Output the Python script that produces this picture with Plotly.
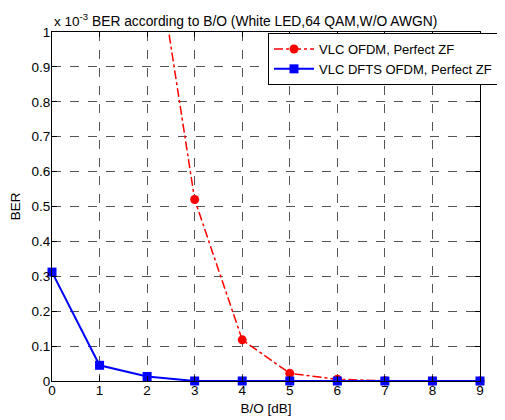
import plotly.graph_objects as go

bo_db = [0, 1, 2, 3, 4, 5, 6, 7, 8, 9]
ber_ofdm = [None, None, 1.40, 0.52, 0.118, 0.022, 0.005, 0.0005, 0.0, 0.0]  # x 1e-3
ber_dfts = [0.312, 0.045, 0.013, 0.0, 0.0, 0.0, 0.0, 0.0, 0.0, 0.0]  # x 1e-3
x_ticks = list(range(10))
y_ticks = [0, 0.1, 0.2, 0.3, 0.4, 0.5, 0.6, 0.7, 0.8, 0.9, 1]
y_tick_text = ["0", "0.1", "0.2", "0.3", "0.4", "0.5", "0.6", "0.7", "0.8", "0.9", "1"]

font = "Liberation Sans, Arial, sans-serif"
fs = 13.5

# page has 8px body margin; work in figure coords
OFF = 8
W, H = 505 - OFF, 420 - OFF
L, T = 52 - OFF, 32 - OFF
PW, PH = 428, 349

fig = go.Figure()
fig.add_trace(go.Scatter(
    x=bo_db, y=ber_ofdm, mode="lines+markers", name="VLC OFDM, Perfect ZF",
    line=dict(color="#ff0000", width=1.5, dash="dashdot"),
    marker=dict(symbol="circle", size=9, color="#ff0000"),
    cliponaxis=False,
))
fig.add_trace(go.Scatter(
    x=bo_db, y=ber_dfts, mode="lines+markers", name="VLC DFTS OFDM, Perfect ZF",
    line=dict(color="#0000ff", width=2),
    marker=dict(symbol="square", size=9, color="#0000ff"),
    cliponaxis=False,
))

axis_common = dict(
    showline=True, linecolor="black", linewidth=1, mirror="ticks",
    ticks="inside", ticklen=5, tickcolor="black",
    showgrid=True, gridcolor="#555555", griddash="dash", gridwidth=1,
    zeroline=False, tickfont=dict(family=font, size=fs, color="black"),
    automargin=False,
)
fig.update_xaxes(range=[0, 9], tickvals=x_ticks, ticklabelstandoff=-3,
                 title=dict(text="B/O [dB]", font=dict(family=font, size=fs, color="black"), standoff=6),
                 **axis_common)
fig.update_yaxes(range=[0, 1], tickvals=y_ticks, ticktext=y_tick_text, ticklabelstandoff=-2,
                 title=dict(text="BER", font=dict(family=font, size=fs, color="black"), standoff=8),
                 **axis_common)

fig.update_layout(
    width=W, height=H,
    margin=dict(l=L, r=W - L - PW, t=T, b=H - T - PH, autoexpand=False),
    paper_bgcolor="white", plot_bgcolor="white",
    font=dict(family=font, size=fs, color="black"),
    showlegend=True,
    legend=dict(x=(268 - 52) / PW, y=(381 - 33) / PH, xanchor="left", yanchor="top",
                bordercolor="black", borderwidth=1, bgcolor="white",
                font=dict(family=font, size=13, color="black"),
                tracegroupgap=0, itemwidth=40),
    annotations=[
        dict(text="BER according to B/O (White LED,64 QAM,W/O AWGN)",
             x=(264 - 52) / PW, y=1.0, xref="paper", yref="paper",
             xanchor="center", yanchor="bottom", yshift=1,
             showarrow=False, font=dict(family=font, size=13.8)),
        dict(text="x 10<sup>-3</sup>", x=0, y=1.0, xref="paper", yref="paper",
             xanchor="left", yanchor="bottom", yshift=1,
             showarrow=False, font=dict(family=font, size=fs)),
    ],
)

fig.write_html("out.html")
